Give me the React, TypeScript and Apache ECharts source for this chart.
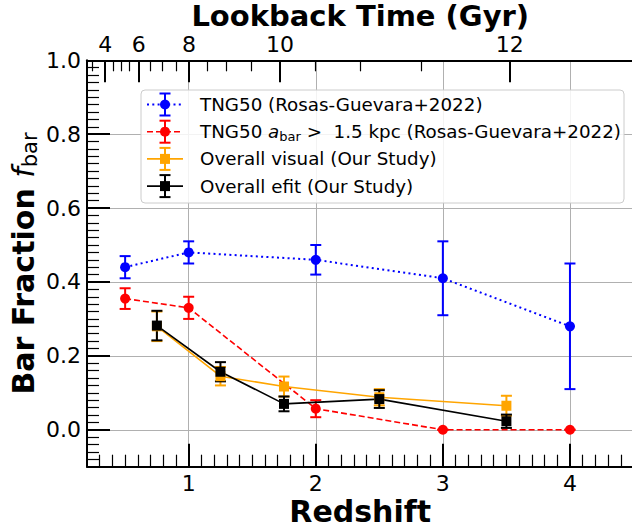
import React, { useEffect, useRef } from 'react';
import * as echarts from 'echarts';

const FONT = 'DejaVu Sans';

// ---- data ----
const tngZ = [0.5, 1, 2, 3, 4];
const tngFrac = [0.44, 0.48, 0.46, 0.41, 0.28];
const tngErr = [0.03, 0.03, 0.04, 0.1, 0.17];

const tngLongZ = [0.5, 1, 2, 3, 4];
const tngLongFrac = [0.355, 0.33, 0.057, 0, 0];
const tngLongErr = [0.028, 0.03, 0.023, 0, 0];

const studyZ = [0.75, 1.25, 1.75, 2.5, 3.5];
const visualFrac = [0.28, 0.145, 0.117, 0.088, 0.065];
const visualErr = [0.04, 0.025, 0.027, 0.022, 0.027];
const efitFrac = [0.282, 0.157, 0.07, 0.083, 0.023];
const efitErr = [0.04, 0.026, 0.02, 0.024, 0.018];

// ---- ticks ----
const yTickValues = [0, 0.2, 0.4, 0.6, 0.8, 1.0];
const xTickValues = [1, 2, 3, 4];
const topTickZ = [0.343, 0.608, 1.002, 1.718, 3.526];
const topTickLabels = ['4', '6', '8', '10', '12'];
const topMinorZ = [0.242, 0.41, 0.469, 0.534, 0.7, 0.795, 0.903, 1.148, 1.298, 1.489, 1.994, 2.35, 2.831];

const yMinor: number[] = [];
for (let i = -4; i <= 49; i++) if (i % 10 !== 0) yMinor.push(Math.round(i * 2) / 100);
const xMinor: number[] = [];
for (let i = 3; i <= 44; i++) if (i % 10 !== 0) xMinor.push(i / 10);

const legendLabels = [
  'TNG50 (Rosas-Guevara+2022)',
  'TNG50 {i|a}{s|bar}{n| >  1.5 kpc (Rosas-Guevara+2022)}',
  'Overall visual (Our Study)',
  'Overall efit (Our Study)',
];

const defs = [
  { z: tngZ, y: tngFrac, e: tngErr, color: '#0000ff', symbol: 'circle', size: 10, lineType: [2, 3.3], lineWidth: 2 },
  { z: tngLongZ, y: tngLongFrac, e: tngLongErr, color: '#ff0000', symbol: 'circle', size: 10, lineType: [6, 3], lineWidth: 1.6 },
  { z: studyZ, y: visualFrac, e: visualErr, color: '#ffa500', symbol: 'rect', size: 10, lineType: 'solid', lineWidth: 1.6 },
  { z: studyZ, y: efitFrac, e: efitErr, color: '#000000', symbol: 'rect', size: 10, lineType: 'solid', lineWidth: 1.6 },
];

const CAP = 5.5;
const LEG_FS = 18.3;

function buildOption(): any {
  const series: any[] = [];
  defs.forEach((d, k) => {
    series.push({
      type: 'custom',
      name: 'err' + k,
      coordinateSystem: 'cartesian2d',
      xAxisIndex: 0,
      yAxisIndex: 0,
      encode: { x: 0, y: 1 },
      data: d.z.map((v, i) => [v, d.y[i], d.e[i]]),
      renderItem: (params: any, api: any) => {
        const x = api.value(0);
        const y = api.value(1);
        const e = api.value(2);
        const t = api.coord([x, y + e]);
        const b = api.coord([x, y - e]);
        const st = { stroke: d.color, lineWidth: 2 };
        return {
          type: 'group',
          children: [
            { type: 'line', shape: { x1: t[0], y1: t[1], x2: b[0], y2: b[1] }, style: st },
            { type: 'line', shape: { x1: t[0] - CAP, y1: t[1], x2: t[0] + CAP, y2: t[1] }, style: st },
            { type: 'line', shape: { x1: b[0] - CAP, y1: b[1], x2: b[0] + CAP, y2: b[1] }, style: st },
          ],
        };
      },
    });
    series.push({
      type: 'line',
      name: 'line' + k,
      xAxisIndex: 0,
      yAxisIndex: 0,
      data: d.z.map((v, i) => [v, d.y[i]]),
      symbol: d.symbol,
      symbolSize: d.size,
      showSymbol: true,
      lineStyle: { color: d.color, width: d.lineWidth, type: d.lineType },
      itemStyle: { color: d.color },
      emphasis: { disabled: true },
    });
  });

  // legend drawn with graphic elements
  const rows = [104.5, 131.7, 158.9, 186.1];
  const graphic: any[] = [
    {
      type: 'rect',
      shape: { x: 141, y: 90, width: 483, height: 113, r: 4 },
      style: { fill: 'rgba(255,255,255,0.85)', stroke: '#cccccc', lineWidth: 1 },
      z: 100,
    },
  ];
  defs.forEach((d, k) => {
    const cy = rows[k];
    const cx = 165;
    const st = { stroke: d.color, lineWidth: 2 };
    graphic.push({
      type: 'line',
      z: 101,
      shape: { x1: 147, y1: cy, x2: 183, y2: cy },
      style: {
        stroke: d.color,
        lineWidth: d.lineWidth,
        lineDash: d.lineType === 'solid' ? null : d.lineType,
      },
    });
    graphic.push({ type: 'line', z: 101, shape: { x1: cx, y1: cy - 11, x2: cx, y2: cy + 11 }, style: st });
    graphic.push({ type: 'line', z: 101, shape: { x1: cx - CAP, y1: cy - 11, x2: cx + CAP, y2: cy - 11 }, style: st });
    graphic.push({ type: 'line', z: 101, shape: { x1: cx - CAP, y1: cy + 11, x2: cx + CAP, y2: cy + 11 }, style: st });
    if (d.symbol === 'circle') {
      graphic.push({ type: 'circle', z: 102, shape: { cx, cy, r: 5 }, style: { fill: d.color } });
    } else {
      graphic.push({ type: 'rect', z: 102, shape: { x: cx - 5, y: cy - 5, width: 10, height: 10 }, style: { fill: d.color } });
    }
    graphic.push({
      type: 'text',
      z: 102,
      x: 200,
      y: cy,
      style: {
        text: legendLabels[k],
        fontSize: LEG_FS,
        fontFamily: FONT,
        fill: '#000',
        align: 'left',
        verticalAlign: 'middle',
        lineHeight: 22,
        rich: {
          i: { fontSize: LEG_FS, fontFamily: FONT, fontStyle: 'italic', fill: '#000' },
          s: { fontSize: 13, fontFamily: FONT, fill: '#000', lineHeight: 13, verticalAlign: 'bottom' },
          n: { fontSize: LEG_FS, fontFamily: FONT, fill: '#000' },
        },
      },
    });
  });

  const tickLabelStyle = { fontSize: 22, fontFamily: FONT, color: '#000' };
  const nameStyle = { fontSize: 30, fontFamily: FONT, fontWeight: 'bold', color: '#000' };

  return {
    animation: false,
    backgroundColor: '#ffffff',
    grid: { left: 87, right: 12.5, top: 60.3, bottom: 62.3, outerBoundsMode: 'none' },
    xAxis: [
      {
        type: 'value',
        position: 'bottom',
        min: 0.2,
        max: 4.5,
        name: 'Redshift',
        nameLocation: 'middle',
        nameGap: 30,
        nameMoveOverlap: false,
        nameTextStyle: nameStyle,
        axisLine: { show: true, onZero: false, lineStyle: { color: '#000', width: 2 } },
        axisTick: { show: true, inside: true, length: 23, customValues: xTickValues, lineStyle: { color: '#000', width: 2 } },
        axisLabel: { show: true, customValues: xTickValues, margin: 6, ...tickLabelStyle, formatter: (v: number) => String(Math.round(v)) },
        splitLine: { show: true, lineStyle: { color: '#b0b0b0', width: 1 } },
        minorTick: { show: false },
      },
      {
        type: 'value',
        position: 'bottom',
        min: 0.2,
        max: 4.5,
        axisLine: { show: false, onZero: false },
        axisTick: { show: true, inside: true, length: 12, customValues: xMinor, lineStyle: { color: '#000', width: 1.2 } },
        axisLabel: { show: false },
        splitLine: { show: false },
      },
      {
        type: 'value',
        position: 'top',
        min: 0.2,
        max: 4.5,
        name: 'Lookback Time (Gyr)',
        nameLocation: 'middle',
        nameGap: 31,
        nameMoveOverlap: false,
        nameTextStyle: { ...nameStyle, fontSize: 29, lineHeight: 26 },
        axisLine: { show: true, onZero: false, lineStyle: { color: '#000', width: 2 } },
        axisTick: { show: true, inside: true, length: 22, customValues: topTickZ, lineStyle: { color: '#000', width: 2 } },
        axisLabel: {
          show: true,
          customValues: topTickZ,
          margin: 5.5,
          ...tickLabelStyle,
          lineHeight: 20,
          formatter: (v: number) => {
            let best = 0;
            topTickZ.forEach((z, i) => {
              if (Math.abs(z - v) < Math.abs(topTickZ[best] - v)) best = i;
            });
            return topTickLabels[best];
          },
        },
        splitLine: { show: false },
      },
      {
        type: 'value',
        position: 'top',
        min: 0.2,
        max: 4.5,
        axisLine: { show: false, onZero: false },
        axisTick: { show: true, inside: true, length: 11, customValues: topMinorZ, lineStyle: { color: '#000', width: 1.2 } },
        axisLabel: { show: false },
        splitLine: { show: false },
      },
    ],
    yAxis: [
      {
        type: 'value',
        position: 'left',
        min: -0.1,
        max: 1.0,
        name: '{b|Bar Fraction }{i|f}{s|bar}',
        nameLocation: 'middle',
        nameGap: 47,
        nameMoveOverlap: false,
        nameTextStyle: {
          color: '#000',
          fontSize: 30,
          fontFamily: FONT,
          lineHeight: 34,
          rich: {
            b: { fontSize: 30, fontFamily: FONT, fontWeight: 'bold', color: '#000', lineHeight: 34 },
            i: { fontSize: 30, fontFamily: FONT, fontStyle: 'italic', color: '#000', lineHeight: 34 },
            s: { fontSize: 21, fontFamily: FONT, color: '#000', lineHeight: 21, verticalAlign: 'bottom' },
          },
        },
        axisLine: { show: true, onZero: false, lineStyle: { color: '#000', width: 2 } },
        axisTick: { show: true, inside: true, length: 23, customValues: yTickValues, lineStyle: { color: '#000', width: 2 } },
        axisLabel: { show: true, customValues: yTickValues, margin: 6, ...tickLabelStyle, formatter: (v: number) => v.toFixed(1) },
        splitLine: { show: true, lineStyle: { color: '#b0b0b0', width: 1 } },
      },
      {
        type: 'value',
        position: 'left',
        min: -0.1,
        max: 1.0,
        axisLine: { show: false, onZero: false },
        axisTick: { show: true, inside: true, length: 12, customValues: yMinor, lineStyle: { color: '#000', width: 1.2 } },
        axisLabel: { show: false },
        splitLine: { show: false },
      },
    ],
    series,
    graphic,
  };
}

export default function App() {
  const ref = useRef<HTMLDivElement>(null);
  useEffect(() => {
    document.body.style.margin = '0';
    const chart = echarts.init(ref.current!, null, { renderer: 'svg' });
    chart.setOption(buildOption());
    return () => chart.dispose();
  }, []);
  return (
    <div style={{ position: 'relative', width: 632, height: 529, overflow: 'hidden', background: '#fff' }}>
      <div ref={ref} style={{ position: 'absolute', left: 0, top: 0, width: 646, height: 529 }} />
    </div>
  );
}
